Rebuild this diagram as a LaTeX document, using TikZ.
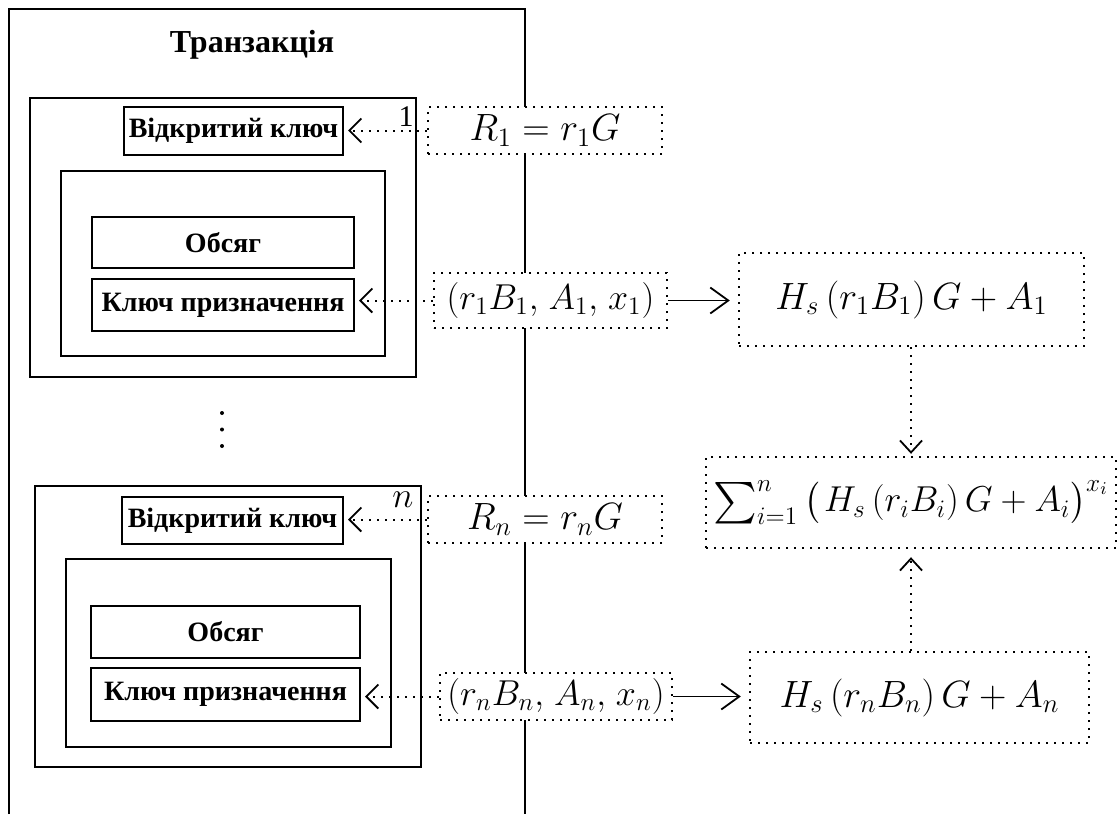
\RequirePackage{fix-cm}
\documentclass[tikz,border=0pt]{standalone}
\usepackage{amsmath}
\usepackage{fontspec}
\setmainfont{Liberation Serif}
\usepackage{graphicx}
\usetikzlibrary{arrows.meta}

% enlarged inline summation sign
\newcommand{\bigsumop}{\mathop{\vcenter{\hbox{\scalebox{1.2}{$\textstyle\sum$}}}}\nolimits}

\begin{document}
\begin{tikzpicture}[x=0.5pt,y=-0.5pt,
  frameline/.style={line width=1pt},
  solidbox/.style={draw, line width=1pt, inner sep=0pt},
  labelbox/.style={solidbox, fill=white, font=\bfseries\fontsize{14}{16}\selectfont},
  dotbox/.style={draw, line width=1.2pt, dash pattern=on 0.9pt off 3.1pt, fill=white,
    inner sep=0pt, font=\fontsize{19}{22}\selectfont},
  smallmath/.style={font=\fontsize{18}{21}\selectfont},
  dotarrow/.style={line width=1pt, dash pattern=on 0.9pt off 3.1pt,
    -{Straight Barb[length=6pt,width=12pt,line width=0.9pt]}},
  vdotarrow/.style={line width=1pt, dash pattern=on 0.9pt off 3.1pt,
    -{Straight Barb[length=6pt,width=11pt,line width=0.9pt]}},
  solidarrow/.style={line width=0.9pt,
    -{Straight Barb[length=9pt,width=13pt,line width=0.9pt]}},
  idx/.style={inner sep=0pt, font=\fontsize{15}{18}\selectfont}
]
\useasboundingbox (0,0) rectangle (1118,814);

% transaction frame, open at the bottom
\draw[frameline] (9,814) -- (9,9) -- (525,9) -- (525,814);
\node[font=\bfseries\fontsize{16}{19}\selectfont] (title) at (252,45) {Транзакція};

% first output
\node[solidbox, minimum width=193pt, minimum height=139.5pt] (b1) at (223,237.5) {};
\node[labelbox, minimum width=109.5pt, minimum height=24pt] (pk1) at (233.5,131) {Відкритий ключ};
\node[solidbox, minimum width=162pt, minimum height=92.5pt] (in1) at (223,263.5) {};
\node[labelbox, minimum width=131pt, minimum height=25.5pt] (am1) at (223,242.5) {Обсяг};
\node[labelbox, minimum width=131pt, minimum height=26pt] (dk1) at (223,305) {Ключ призначення};
\node[idx] (one) at (406,117) {1};

% vertical ellipsis
\fill (222,413) circle (1pt);
\fill (222,429.5) circle (1pt);
\fill (222,446) circle (1pt);

% n-th output
\node[solidbox, minimum width=193pt, minimum height=140.5pt] (bn) at (228,626.5) {};
\node[labelbox, minimum width=110.5pt, minimum height=23.5pt] (pkn) at (232.5,520.5) {Відкритий ключ};
\node[solidbox, minimum width=162.5pt, minimum height=94pt] (inn) at (228.5,653) {};
\node[labelbox, minimum width=134.5pt, minimum height=26pt] (amn) at (225.5,632) {Обсяг};
\node[labelbox, minimum width=134.5pt, minimum height=26.5pt] (dkn) at (225.5,694.5) {Ключ призначення};
\node[idx, font=\fontsize{18}{21}\selectfont] (enn) at (403,500) {$n$};

% computed values
\node[dotbox, minimum width=117pt, minimum height=23.5pt] (R1) at (545,130.5) {$R_1 = r_1G$};
\node[dotbox, smallmath, minimum width=116.5pt, minimum height=27.5pt] (T1) at (550.5,300.5) {$(r_1B_1,\mskip2mu A_1,\mskip2mu x_1)$};
\node[dotbox, minimum width=172.5pt, minimum height=46.5pt] (H1) at (911.5,299.5) {$H_s\,(r_1B_1)\,G + A_1$};
\node[dotbox, smallmath, minimum width=205pt, minimum height=45.5pt] (S) at (911,502.5)
  {$\bigsumop_{i=1}^{n}\big(\mskip2mu H_s\,(r_iB_i)\,G + A_i\big)^{x_i}$};
\node[dotbox, minimum width=117pt, minimum height=23.5pt] (Rn) at (545,519.5) {$R_n = r_nG$};
\node[dotbox, smallmath, minimum width=116pt, minimum height=23.5pt] (Tn) at (556,696.5) {$(r_nB_n,\mskip2mu A_n,\mskip2mu x_n)$};
\node[dotbox, minimum width=169.5pt, minimum height=45.5pt] (Hn) at (919.5,697.5) {$H_s\,(r_nB_n)\,G + A_n$};

% connectors
\draw[dotarrow, shorten >=2pt] (R1.west) -- (R1.west -| pk1.east);
\draw[dotarrow, shorten >=2pt] (T1.west) -- (T1.west -| dk1.east);
\draw[dotarrow, shorten >=2pt] (Rn.west) -- (Rn.west -| pkn.east);
\draw[dotarrow, shorten >=2pt] (Tn.west) -- (Tn.west -| dkn.east);
\draw[solidarrow, shorten >=4pt] (T1.east) -- (T1.east -| H1.west);
\draw[solidarrow, shorten >=4pt] (Tn.east) -- (Tn.east -| Hn.west);
\draw[vdotarrow, shorten >=1pt] (H1.south -| S.north) -- (S.north);
\draw[vdotarrow, shorten >=4pt] (Hn.north -| S.south) -- (S.south);
\end{tikzpicture}
\end{document}
